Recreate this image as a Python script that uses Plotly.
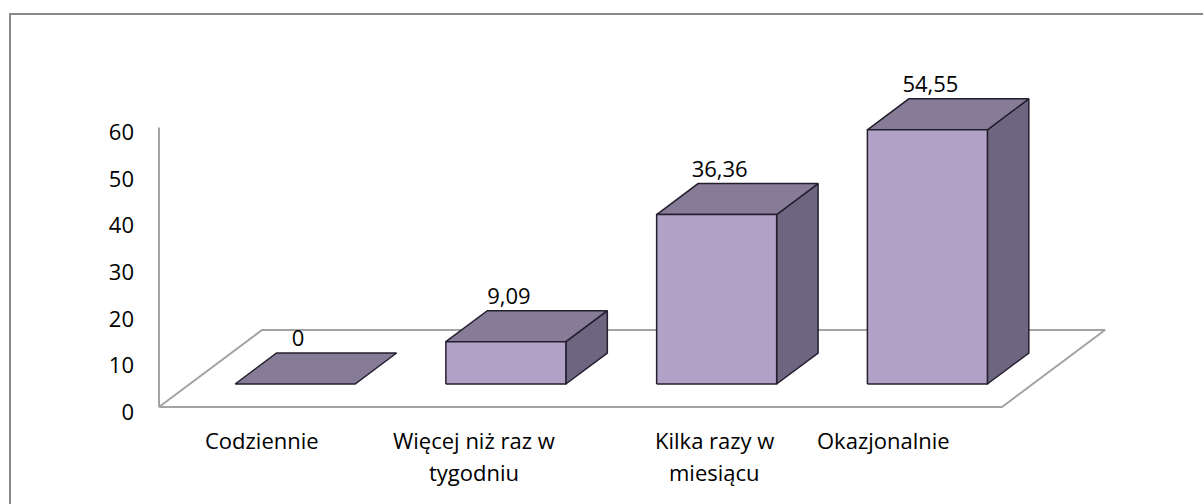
import plotly.graph_objects as go

# ---- data ----
categories = ["Codziennie", "Więcej niż raz w<br>tygodniu", "Kilka razy w<br>miesiącu", "Okazjonalnie"]
values = [0, 9.09, 36.36, 54.55]
value_labels = ["0", "9,09", "36,36", "54,55"]
y_ticks = [0, 10, 20, 30, 40, 50, 60]

# ---- geometry / style ----
W, H = 1203, 504
L, R, T, B = 100, 1190, 30, 420          # plot area in px
PXC, PXV = 210.75, 4.66                  # px per category, px per value unit
X0PX, Y0PX = 159, 407                    # px of category -0.5 / value 0
DX, DY = 103 / PXC, 77 / PXV             # floor depth projection (data units)
D0, D1 = 0.2987, 0.701                   # bar depth (front, back) fraction
BW = 120 / PXC                           # bar width in categories
AXIS_MAX = 60

FONT = "Open Sans"
FRONT, TOP, SIDE, EDGE = "#B3A2C7", "#867C98", "#6E6580", "#231F2E"
GRAY = "#A3A3A3"

xr = [(L - X0PX) / PXC - 0.5, (R - X0PX) / PXC - 0.5]
yr = [(Y0PX - B) / PXV, (Y0PX - T) / PXV]


def proj(c, v, d):
    return c + d * DX, v + d * DY


def poly(points, fill, color=EDGE, width=1.5):
    xs, ys = [], []
    for c, v, d in points + [points[0]]:
        x, y = proj(c, v, d)
        xs.append(x)
        ys.append(y)
    return go.Scatter(x=xs, y=ys, mode="lines", fill="toself" if fill else None,
                      fillcolor=fill, line=dict(color=color, width=width),
                      hoverinfo="skip", showlegend=False)


fig = go.Figure()

# floor
n = len(categories)
fig.add_trace(poly([(-0.5, 0, 0), (n - 0.5, 0, 0), (n - 0.5, 0, 1), (-0.5, 0, 1)],
                   None, color=GRAY, width=2))
# value axis line
fig.add_trace(go.Scatter(x=[-0.5, -0.5], y=[0, AXIS_MAX], mode="lines",
                         line=dict(color=GRAY, width=2), hoverinfo="skip", showlegend=False))

# bars
for i, v in enumerate(values):
    cl, cr = i - BW / 2, i + BW / 2
    if v > 0:
        fig.add_trace(poly([(cr, 0, D0), (cr, 0, D1), (cr, v, D1), (cr, v, D0)], SIDE))
    fig.add_trace(poly([(cl, v, D0), (cr, v, D0), (cr, v, D1), (cl, v, D1)], TOP))
    if v > 0:
        fig.add_trace(poly([(cl, 0, D0), (cr, 0, D0), (cr, v, D0), (cl, v, D0)], FRONT))

# value labels
lx = [i + D0 * DX + 3 / PXC for i in range(n)]
ly = [v + D1 * DY + 12.5 / PXV for v in values]
fig.add_trace(go.Scatter(x=lx, y=ly, mode="text", text=value_labels,
                         textposition="middle center",
                         textfont=dict(family=FONT, size=22, color="#000000"),
                         hoverinfo="skip", showlegend=False, cliponaxis=False))

# category labels
label_shift = [-2, -1, 29, -13]
annotations = []
for i, cat in enumerate(categories):
    for j, line in enumerate(cat.split("<br>")):
        annotations.append(dict(x=i, y=0, xref="x", yref="y", text=line, showarrow=False,
                                xanchor="center", yanchor="middle",
                                xshift=label_shift[i], yshift=-(33 + 32 * j),
                                font=dict(family=FONT, size=22, color="#000000")))


# chart border (extends past right/bottom edge)
def px_to_paper_x(px):
    return (px - L) / (R - L)


def px_to_paper_y(py):
    return (B - py) / (B - T)


shapes = [dict(type="rect", xref="paper", yref="paper",
               x0=px_to_paper_x(10), x1=px_to_paper_x(W + 10),
               y0=px_to_paper_y(H + 10), y1=px_to_paper_y(14),
               line=dict(color="#898989", width=2), layer="below")]

fig.update_layout(
    width=W, height=H, autosize=False,
    margin=dict(l=L, r=W - R, t=T, b=H - B, pad=0),
    paper_bgcolor="white", plot_bgcolor="white",
    xaxis=dict(range=xr, visible=False, fixedrange=True),
    yaxis=dict(range=yr, anchor="free", position=px_to_paper_x(X0PX),
               tickvals=y_ticks, ticktext=[str(t) for t in y_ticks],
               showline=False, showgrid=False, zeroline=False, ticks="",
               ticklabelstandoff=25, ticklabelshift=5, automargin=False,
               tickfont=dict(family=FONT, size=22, color="#000000"), fixedrange=True),
    annotations=annotations,
    shapes=shapes,
    showlegend=False,
)

fig.write_html("out.html", config={"displayModeBar": False},
               post_script="document.body.style.margin='0px';")
